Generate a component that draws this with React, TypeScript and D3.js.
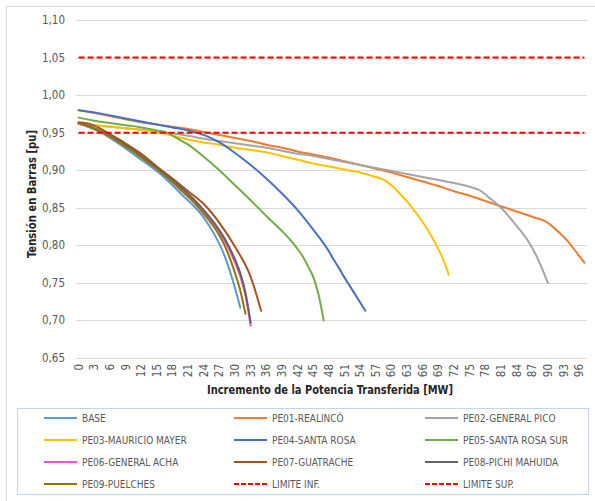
import React from 'react';
import * as d3 from 'd3';

const yTickValues = [0.65, 0.7, 0.75, 0.8, 0.85, 0.9, 0.95, 1.0, 1.05, 1.1];
const xTickValues = [0, 3, 6, 9, 12, 15, 18, 21, 24, 27, 30, 33, 36, 39, 42, 45, 48, 51, 54, 57, 60, 63, 66, 69, 72, 75, 78, 81, 84, 87, 90, 93, 96];

const baseX = [0, 2, 4, 6, 8, 10, 12, 14, 16, 18, 20, 22, 24, 26, 28, 29, 30, 31];
const baseY = [0.962, 0.957, 0.951, 0.943, 0.934, 0.924, 0.914, 0.904, 0.893, 0.880, 0.866, 0.853, 0.837, 0.815, 0.786, 0.766, 0.743, 0.717];

const pe01X = [0, 3, 6, 9, 12, 15, 18, 21, 24, 27, 30, 33, 36, 39, 42, 45, 48, 51, 54, 57, 60, 63, 66, 69, 72, 75, 78, 81, 84, 87, 90, 92, 94, 96, 97];
const pe01Y = [0.980, 0.976, 0.972, 0.968, 0.964, 0.961, 0.958, 0.955, 0.951, 0.947, 0.943, 0.939, 0.934, 0.930, 0.925, 0.921, 0.917, 0.912, 0.907, 0.902, 0.897, 0.891, 0.885, 0.879, 0.872, 0.866, 0.859, 0.852, 0.845, 0.838, 0.830, 0.818, 0.804, 0.786, 0.777];

const pe02X = [0, 3, 6, 9, 12, 15, 18, 21, 24, 27, 30, 33, 36, 39, 42, 45, 48, 51, 54, 57, 60, 63, 66, 69, 72, 75, 77, 79, 81, 84, 86, 88, 90];
const pe02Y = [0.962, 0.960, 0.958, 0.956, 0.954, 0.951, 0.949, 0.946, 0.942, 0.939, 0.936, 0.933, 0.930, 0.926, 0.922, 0.919, 0.915, 0.911, 0.907, 0.903, 0.899, 0.895, 0.891, 0.887, 0.883, 0.878, 0.873, 0.862, 0.850, 0.826, 0.808, 0.783, 0.750];

const pe03X = [0, 3, 6, 9, 12, 15, 18, 21, 24, 27, 30, 33, 36, 39, 42, 45, 48, 51, 54, 57, 58, 60, 62, 64, 66, 68, 70, 71];
const pe03Y = [0.962, 0.960, 0.958, 0.956, 0.954, 0.951, 0.946, 0.941, 0.937, 0.934, 0.930, 0.927, 0.924, 0.919, 0.914, 0.909, 0.905, 0.901, 0.897, 0.891, 0.889, 0.880, 0.866, 0.850, 0.831, 0.808, 0.780, 0.761];

const pe04X = [0, 3, 6, 9, 12, 15, 18, 21, 24, 27, 30, 33, 36, 39, 42, 45, 48, 49, 50, 51, 52, 53, 54, 55];
const pe04Y = [0.980, 0.977, 0.973, 0.969, 0.965, 0.961, 0.957, 0.953, 0.947, 0.937, 0.923, 0.907, 0.889, 0.869, 0.847, 0.821, 0.792, 0.780, 0.769, 0.757, 0.746, 0.735, 0.724, 0.713];

const pe05X = [0, 3, 6, 9, 12, 15, 17, 19, 21, 24, 27, 30, 33, 36, 39, 41, 42, 43, 44, 45, 46, 47];
const pe05Y = [0.970, 0.966, 0.963, 0.960, 0.957, 0.953, 0.950, 0.942, 0.934, 0.918, 0.900, 0.880, 0.860, 0.839, 0.819, 0.804, 0.795, 0.785, 0.772, 0.758, 0.735, 0.700];

const pe06X = [0, 2, 4, 6, 8, 10, 12, 14, 16, 18, 20, 22, 24, 26, 28, 30, 31, 32, 33];
const pe06Y = [0.962, 0.958, 0.952, 0.945, 0.937, 0.928, 0.918, 0.908, 0.897, 0.885, 0.873, 0.860, 0.845, 0.828, 0.806, 0.777, 0.759, 0.733, 0.693];

const pe07X = [0, 2, 4, 6, 8, 10, 12, 15, 18, 21, 24, 27, 30, 33, 35];
const pe07Y = [0.964, 0.962, 0.956, 0.948, 0.940, 0.931, 0.922, 0.905, 0.889, 0.872, 0.855, 0.830, 0.798, 0.758, 0.713];

const pe08X = [0, 2, 4, 6, 8, 10, 12, 14, 16, 18, 20, 22, 24, 26, 28, 30, 31, 32, 33];
const pe08Y = [0.963, 0.959, 0.953, 0.946, 0.938, 0.929, 0.919, 0.909, 0.898, 0.887, 0.875, 0.862, 0.847, 0.830, 0.809, 0.781, 0.763, 0.737, 0.697];

const pe09X = [0, 2, 4, 6, 8, 10, 12, 14, 16, 18, 20, 22, 24, 26, 28, 30, 31, 32];
const pe09Y = [0.963, 0.958, 0.952, 0.945, 0.936, 0.927, 0.917, 0.907, 0.896, 0.884, 0.871, 0.858, 0.842, 0.824, 0.800, 0.763, 0.740, 0.709];

const limitX = [0, 97];
const limInfY = [0.95, 0.95];
const limSupY = [1.05, 1.05];

const seriesNames = ['BASE', 'PE01-REALINCÓ', 'PE02-GENERAL PICO', 'PE03-MAURICIO MAYER', 'PE04-SANTA ROSA', 'PE05-SANTA ROSA SUR', 'PE06-GENERAL ACHA', 'PE07-GUATRACHE', 'PE08-PICHI MAHUIDA', 'PE09-PUELCHES', 'LIMITE INF.', 'LIMITE SUP.'];
const seriesColors = ['#5B9BD5', '#ED7D31', '#A5A5A5', '#FFC000', '#4472C4', '#70AD47', '#F252C7', '#A9531C', '#636363', '#997300', '#FF0000', '#FF0000'];
const seriesXs = [baseX, pe01X, pe02X, pe03X, pe04X, pe05X, pe06X, pe07X, pe08X, pe09X, limitX, limitX];
const seriesYs = [baseY, pe01Y, pe02Y, pe03Y, pe04Y, pe05Y, pe06Y, pe07Y, pe08Y, pe09Y, limInfY, limSupY];
const seriesDashed = [false, false, false, false, false, false, false, false, false, false, true, true];

const W = 595;
const H = 501;
const FONT = "'Liberation Sans Narrow', 'DejaVu Sans Condensed', 'Liberation Sans', sans-serif";

export default function App() {
  const x = d3.scaleLinear().domain([-0.5, 97.5]).range([76, 587]);
  const y = d3.scaleLinear().domain([0.65, 1.1]).range([358, 20]);
  const line = d3
    .line<[number, number]>()
    .x((d) => x(d[0]))
    .y((d) => y(d[1]))
    .curve(d3.curveMonotoneX);

  const fmt = (v: number) => v.toFixed(2).replace('.', ',');

  const legendCols = [44, 234, 425];
  const legendRows = [418, 440, 462, 484];

  return (
    <svg
      width={W}
      height={H}
      style={{ position: 'absolute', left: 0, top: 0, display: 'block', background: '#fff' }}
      fontFamily={FONT}
    >
      <rect x={0} y={0} width={W} height={H} fill="#fff" />
      <rect x={6.5} y={6.5} width={700} height={700} fill="#fff" stroke="#D9D9D9" strokeWidth={1} />

      {yTickValues.map((v) => (
        <g key={v}>
          <line x1={76} x2={587} y1={Math.round(y(v)) + 0.5} y2={Math.round(y(v)) + 0.5} stroke="#D9D9D9" strokeWidth={1} />
          <text x={65} y={y(v)} dy="0.35em" textAnchor="end" fontSize={11.5} fill="#595959">
            {fmt(v)}
          </text>
        </g>
      ))}

      {xTickValues.map((v) => (
        <text
          key={v}
          transform={`translate(${x(v)},364) rotate(-90)`}
          dy="0.35em"
          textAnchor="end"
          fontSize={11.5}
          fill="#595959"
        >
          {v}
        </text>
      ))}

      <text x={330} y={394} textAnchor="middle" fontSize={12.5} fontWeight="bold" fill="#262626" textLength={246} lengthAdjust="spacingAndGlyphs">
        Incremento de la Potencia Transferida [MW]
      </text>
      <text transform="translate(36,194) rotate(-90)" textAnchor="middle" fontSize={12} fontWeight="bold" fill="#262626" textLength={128} lengthAdjust="spacingAndGlyphs">
        Tensión en Barras [pu]
      </text>

      {seriesNames.map((name, i) => {
        const pts: [number, number][] = seriesXs[i].map((xv, j) => [xv, seriesYs[i][j]]);
        return (
          <path
            key={name}
            d={line(pts) || ''}
            fill="none"
            stroke={seriesColors[i]}
            strokeWidth={2}
            strokeDasharray={seriesDashed[i] ? '6,3' : undefined}
            strokeLinejoin="round"
            strokeLinecap={seriesDashed[i] ? 'butt' : 'round'}
          />
        );
      })}

      <rect x={17.5} y={408.5} width={571} height={86} fill="none" stroke="#BDD7EE" strokeWidth={1} />
      {seriesNames.map((name, i) => {
        const cx = legendCols[i % 3];
        const cy = legendRows[Math.floor(i / 3)];
        return (
          <g key={'lg' + name}>
            <line
              x1={cx}
              x2={cx + 33}
              y1={cy}
              y2={cy}
              stroke={seriesColors[i]}
              strokeWidth={2}
              strokeDasharray={seriesDashed[i] ? '5,2' : undefined}
            />
            <text x={cx + 38} y={cy} dy="0.35em" fontSize={10} fill="#595959">
              {name}
            </text>
          </g>
        );
      })}
    </svg>
  );
}
